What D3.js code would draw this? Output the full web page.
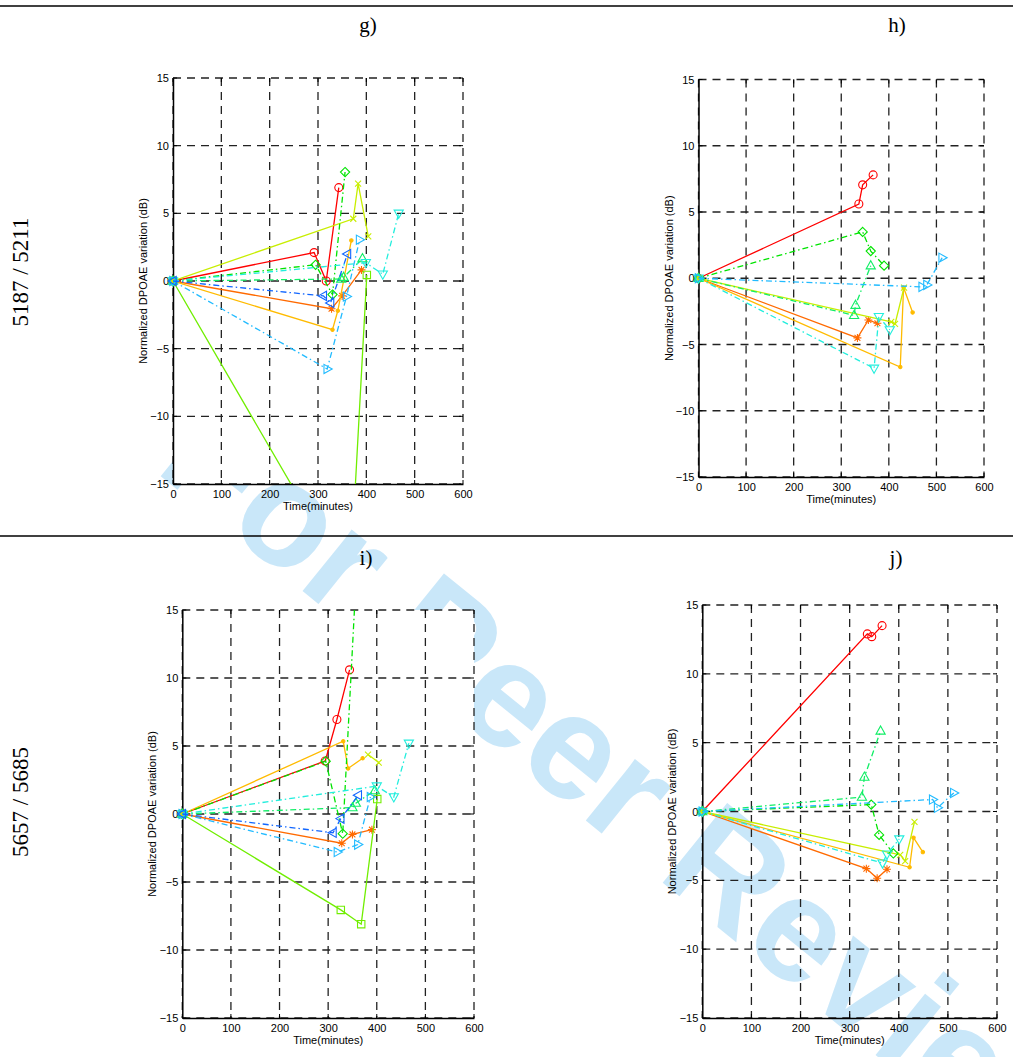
<!DOCTYPE html>
<html><head><meta charset="utf-8">
<script src="https://cdn.jsdelivr.net/npm/d3@7"></script>
<style>body{margin:0;background:#fff}svg{display:block}</style>
</head><body>
<svg id="c" width="1013" height="1057"></svg>
<script>
// ---------- data ----------
const xTicks = [0, 100, 200, 300, 400, 500, 600];
const yTicks = [-15, -10, -5, 0, 5, 10, 15];
const panelLetters = ["g)", "h)", "i)", "j)"];
const rowLabels = ["5187 / 5211", "5657 / 5685"];
const xTitle = "Time(minutes)";
const yTitle = "Normalized DPOAE variation (dB)";
const watermark = "For Peer Review";

const seriesMarkers = ["o", "*", ".", "x", "s", "d", "^", "v", ">", "<"];
const seriesColors = ["#ff0000", "#ff6a00", "#ffbb00", "#c8ee00", "#70ee00",
                      "#00e400", "#11ee66", "#22eedd", "#22bbff", "#1166ff"];
const seriesDashDot = [false, false, false, false, false, true, true, true, true, true];

// each panel: one entry per series, [time (min), variation (dB)]; null = missing
const dataG = [
  [[0,0],[292,2.1],[317,0],[343,6.9]],
  [[0,0],[328,-2.05],[350,-1.1],[390,0.82]],
  [[0,0],[330,-3.6],[341,-2.2],[369,3.0]],
  [[0,0],[373,4.6],[383,7.2],[404,3.3]],
  [[0,0],[366,-22.5],[401,0.45]],
  [[0,0],[295,1.2],[330,-1.0],[356,8.05]],
  [[0,0],[348,0.15],[353,0.28],[392,1.66]],
  [[0,0],[399,1.35],[434,0.5],[467,5.0]],
  [[0,0],[319,-6.5],[359,-1.15],[386,3.05]],
  [[0,0],[311,-1.1],[326,-1.62],[361,2.0]]
];
const dataH = [
  [[0,0],[337,5.6],[345,7.05],[367,7.8]],
  [[0,0],[334,-4.5],[357,-3.15],[376,-3.4]],
  [[0,0],[424,-6.7],[431,-0.7],[450,-2.58]],
  [[0,0],[405,-3.3],[413,-3.45],[432,-0.7]],
  [],
  [[0,0],[345,3.5],[362,2.05],[390,0.95]],
  [[0,0],[327,-2.8],[330,-2.03],[362,0.95]],
  [[0,0],[369,-6.8],[379,-2.9],[402,-3.9]],
  [[0,0],[470,-0.65],[480,-0.5],[512,1.55]],
  []
];
const dataI = [
  [[0,0],[294,3.9],[318,6.95],[344,10.6]],
  [[0,0],[328,-2.15],[350,-1.5],[390,-1.15]],
  [[0,0],[331,5.35],[341,3.35],[371,4.1]],
  [[0,0],null,[382,4.37],[404,3.78]],
  [[0,0],[326,-7.05],[368,-8.1],[401,1.1]],
  [[0,0],[295,3.88],[330,-1.45],[358,17.7]],
  [[0,0],[350,0.47],[357,0.8],[396,1.72]],
  [[0,0],[400,2.05],[435,1.25],[466,5.2]],
  [[0,0],[319,-2.8],[361,-2.25],[387,1.25]],
  [[0,0],[310,-1.38],[326,-0.34],[362,1.38]]
];
const dataJ = [
  [[0,0],[336,12.9],[345,12.7],[366,13.5]],
  [[0,0],[334,-4.15],[356,-4.85],[376,-4.2]],
  [[0,0],[422,-4.05],[430,-1.9],[449,-2.95]],
  [[0,0],[403,-3.15],[413,-3.6],[432,-0.75]],
  [],
  [[0,0],[344,0.5],[360,-1.7],[389,-3.05]],
  [[0,0],[325,1.05],[330,2.5],[363,5.85]],
  [[0,0],[367,-3.75],[376,-3.1],[401,-2.0]],
  [[0,0],[469,0.87],[479,0.27],[512,1.35]],
  []
];

// ---------- layout ----------
const panels = [
  {data: dataG, left: 173,   right: 463,   top: 78,   bottom: 484,  lx: 368, ly: 32, opaque: true},
  {data: dataH, left: 698.5, right: 984,   top: 79.5, bottom: 477,  lx: 897, ly: 32, opaque: false},
  {data: dataI, left: 182.3, right: 474,   top: 610,  bottom: 1018, lx: 366, ly: 565, opaque: true},
  {data: dataJ, left: 702.3, right: 997,   top: 605,  bottom: 1018, lx: 896, ly: 565, opaque: false}
];
const rows = [{y: 6, labelY: 272}, {y: 536, labelY: 802}];

const svg = d3.select("#c");
const sans = "'Liberation Sans', Arial, sans-serif";
const serif = "'Liberation Serif', 'Times New Roman', serif";

// watermark (behind everything)
svg.append("text")
  .attr("transform", "translate(153,470) rotate(39)")
  .attr("font-family", sans).attr("font-weight", "bold").attr("font-size", 149)
  .attr("fill", "#c9e7f9")
  .text(watermark);

// row rules & labels
rows.forEach((r, i) => {
  svg.append("line").attr("x1", 0).attr("x2", 1013).attr("y1", r.y).attr("y2", r.y)
    .attr("stroke", "#000").attr("stroke-width", 1.4);
  svg.append("text")
    .attr("transform", `translate(28,${r.labelY}) rotate(-90)`)
    .attr("text-anchor", "middle").attr("font-family", serif).attr("font-size", 23)
    .text(rowLabels[i]);
});

function markerPath(m) {
  switch (m) {
    case "o": return "M4,0A4,4 0 1 1 -4,0A4,4 0 1 1 4,0Z";
    case "s": return "M-3.7,-3.7H3.7V3.7H-3.7Z";
    case "d": return "M0,-4.6L4.6,0L0,4.6L-4.6,0Z";
    case "^": return "M0,-5L4.6,3.2L-4.6,3.2Z";
    case "v": return "M0,5L4.6,-3.2L-4.6,-3.2Z";
    case ">": return "M5,0L-3.2,-4.6L-3.2,4.6Z";
    case "<": return "M-5,0L3.2,-4.6L3.2,4.6Z";
    case "x": return "M-3,-3L3,3M-3,3L3,-3";
    case "*": return "M-4,0H4M0,-4V4M-2.9,-2.9L2.9,2.9M-2.9,2.9L2.9,-2.9";
    case ".": return "M1.7,0A1.7,1.7 0 1 1 -1.7,0A1.7,1.7 0 1 1 1.7,0Z";
  }
}

panels.forEach((p, pi) => {
  const x = d3.scaleLinear().domain([0, 600]).range([p.left, p.right]);
  const y = d3.scaleLinear().domain([-15, 15]).range([p.bottom, p.top]);
  const g = svg.append("g");

  if (p.opaque) {
    g.append("rect").attr("x", p.left).attr("y", p.top)
      .attr("width", p.right - p.left).attr("height", p.bottom - p.top).attr("fill", "#fff");
  }

  // panel letter
  svg.append("text").attr("x", p.lx).attr("y", p.ly).attr("text-anchor", "middle")
    .attr("font-family", serif).attr("font-size", 21).text(panelLetters[pi]);

  // grid
  const grid = g.append("g").attr("stroke", "#222").attr("stroke-width", 1.3)
    .attr("stroke-dasharray", "8,6");
  xTicks.forEach(t => grid.append("line").attr("x1", x(t)).attr("x2", x(t))
    .attr("y1", p.top).attr("y2", p.bottom));
  yTicks.forEach(t => grid.append("line").attr("y1", y(t)).attr("y2", y(t))
    .attr("x1", p.left).attr("x2", p.right));

  // axes via d3 axis
  const xAxis = d3.axisBottom(x).tickValues(xTicks).tickSize(0).tickPadding(6);
  const yAxis = d3.axisLeft(y).tickValues(yTicks).tickSize(0).tickPadding(4);
  const gx = g.append("g").attr("transform", `translate(0,${p.bottom})`).call(xAxis);
  const gy = g.append("g").attr("transform", `translate(${p.left},0)`).call(yAxis);
  [gx, gy].forEach(a => {
    a.select(".domain").attr("stroke", "#000").attr("stroke-width", 1.5);
    a.selectAll("text").attr("font-family", sans).attr("font-size", 11).attr("fill", "#000");
  });
  // inward tick marks on all four sides
  const tk = g.append("g").attr("stroke", "#000").attr("stroke-width", 1);
  xTicks.forEach(t => {
    tk.append("line").attr("x1", x(t)).attr("x2", x(t)).attr("y1", p.bottom).attr("y2", p.bottom - 4);
    tk.append("line").attr("x1", x(t)).attr("x2", x(t)).attr("y1", p.top).attr("y2", p.top + 4);
  });
  yTicks.forEach(t => {
    tk.append("line").attr("y1", y(t)).attr("y2", y(t)).attr("x1", p.left).attr("x2", p.left + 4);
    tk.append("line").attr("y1", y(t)).attr("y2", y(t)).attr("x1", p.right).attr("x2", p.right - 4);
  });

  // axis titles
  g.append("text").attr("x", (p.left + p.right) / 2).attr("y", p.bottom + 26)
    .attr("text-anchor", "middle").attr("font-family", sans).attr("font-size", 11).text(xTitle);
  g.append("text")
    .attr("transform", `translate(${p.left - 26},${(p.top + p.bottom) / 2}) rotate(-90)`)
    .attr("text-anchor", "middle").attr("font-family", sans).attr("font-size", 11).text(yTitle);

  // clip
  const cid = "clip" + pi;
  svg.append("clipPath").attr("id", cid).append("rect")
    .attr("x", p.left).attr("y", p.top).attr("width", p.right - p.left).attr("height", p.bottom - p.top);

  const line = d3.line().defined(d => d != null).x(d => x(d[0])).y(d => y(d[1]));
  p.data.forEach((s, si) => {
    if (!s.length) return;
    const col = seriesColors[si];
    g.append("path").attr("d", line(s)).attr("clip-path", `url(#${cid})`)
      .attr("fill", "none").attr("stroke", col).attr("stroke-width", 1.3)
      .attr("stroke-dasharray", seriesDashDot[si] ? "6,3,1.5,3" : null);
    s.filter(d => d != null && d[1] >= -15 && d[1] <= 15).forEach(d => {
      const m = seriesMarkers[si];
      g.append("path").attr("d", markerPath(m))
        .attr("transform", `translate(${x(d[0])},${y(d[1])})`)
        .attr("fill", m === "." ? col : "none")
        .attr("stroke", col).attr("stroke-width", 1.1);
    });
  });
});
</script>
</body></html>
